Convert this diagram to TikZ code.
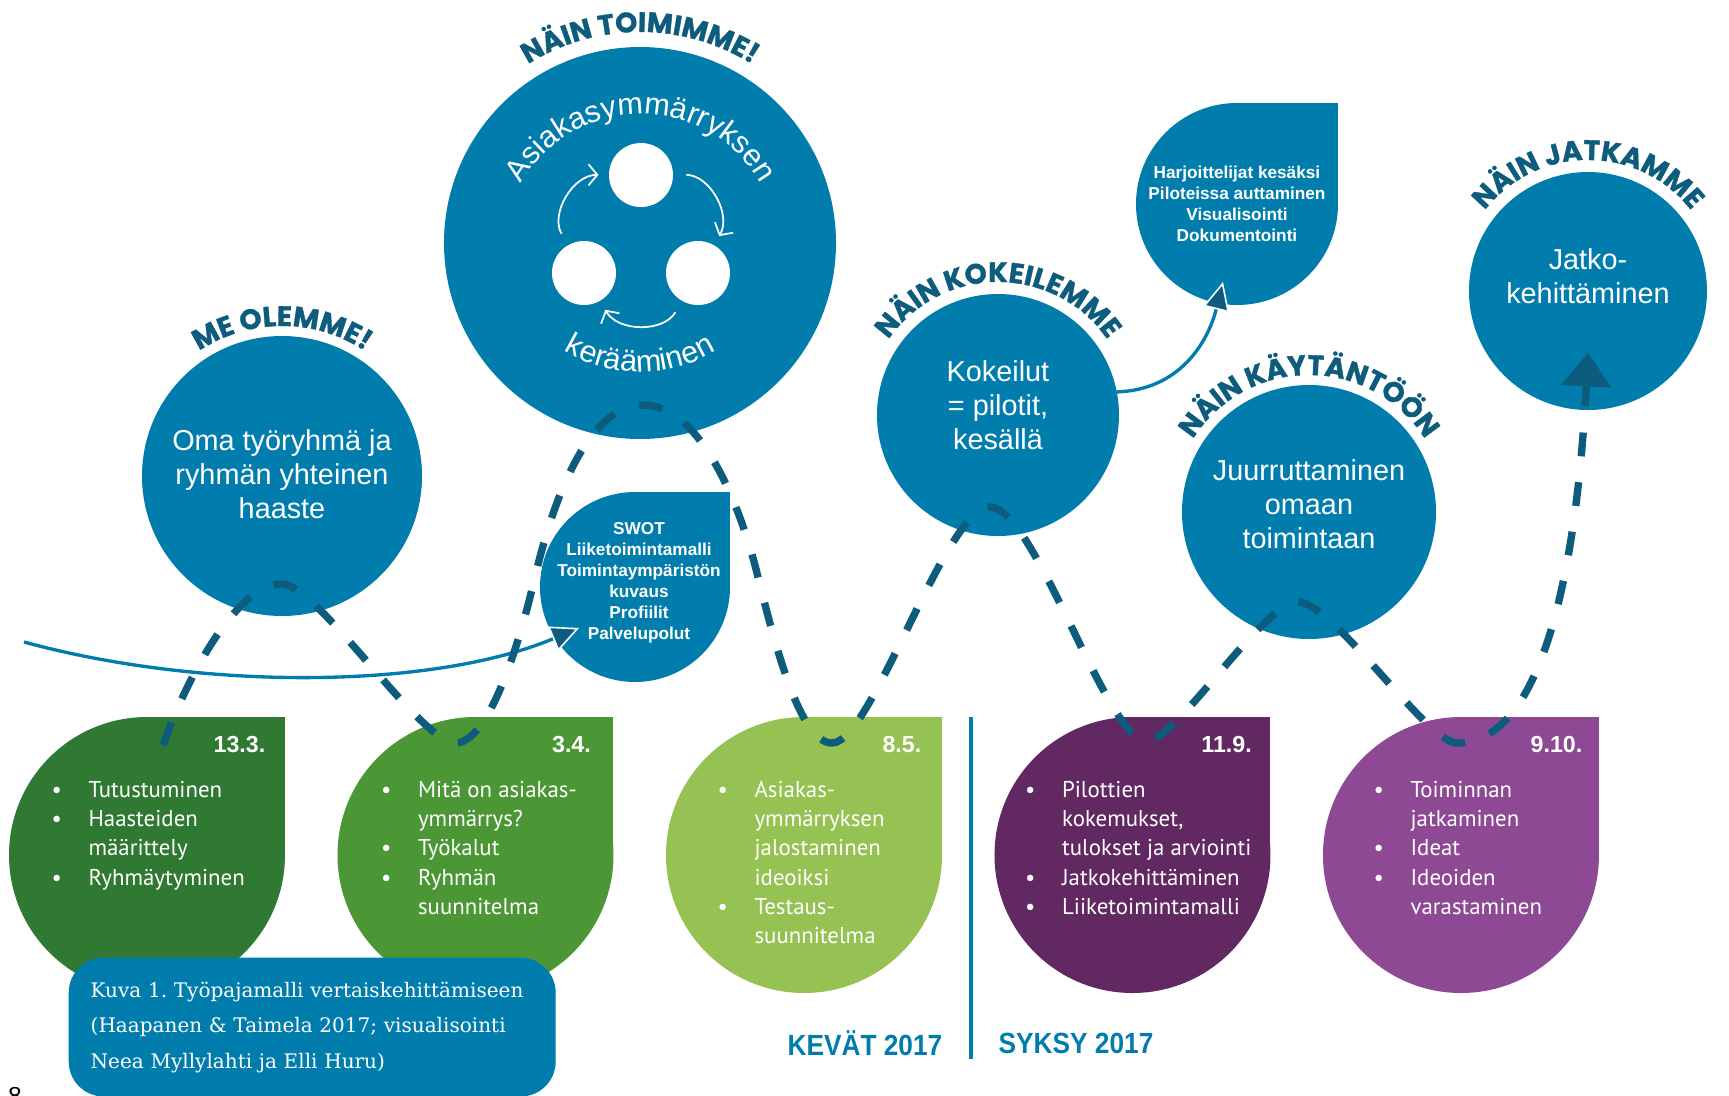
\documentclass[tikz,border=0pt]{standalone}
\usepackage{fontspec}
\setmainfont{Liberation Sans}
\newfontfamily\headfont{Poppins}[BoldFeatures={FakeBold=1.2}]
\newfontfamily\listfont{PT Sans}
\newfontfamily\capfont{DejaVu Serif}
\newfontfamily\narrowfont{Liberation Sans}[FakeStretch=0.9]
\usepackage{tikz}
\usetikzlibrary{arrows.meta, positioning, calc, decorations.text}

\definecolor{poolblue}{RGB}{0,125,172}
\definecolor{inkblue}{RGB}{13,92,125}
\definecolor{mossgreen}{RGB}{47,121,50}
\definecolor{leafgreen}{RGB}{75,150,53}
\definecolor{sprout}{RGB}{150,193,83}
\definecolor{plum}{RGB}{98,40,97}
\definecolor{lilac}{RGB}{141,73,147}

\tikzstyle{bubble} = [circle, fill=poolblue, inner sep=0pt, outer sep=0pt]
\tikzstyle{drop} = [circle, inner sep=0pt, outer sep=0pt, minimum size=27.6mm]
\tikzstyle{bubbletext} = [text=white, align=center, font=\fontsize{8.2}{9.7}\selectfont]
\tikzstyle{droptext} = [text=white, align=center, font=\bfseries\fontsize{4.9}{6}\selectfont]
\tikzstyle{datelabel} = [text=white, anchor=east, inner sep=0pt, font=\bfseries\fontsize{6.6}{7}\selectfont]
\tikzstyle{bullets} = [text=white, anchor=base west, inner sep=0pt, font=\listfont\fontsize{6.5}{8.35}\selectfont]
\tikzstyle{season} = [text=poolblue, inner sep=0pt, font=\narrowfont\bfseries\fontsize{8.3}{9}\selectfont]
\tikzstyle{capbox} = [anchor=north west, fill=poolblue, text=white, rounded corners=3.5mm, text width=44.3mm, align=left, inner xsep=2.2mm, inner ysep=2.4mm, font=\capfont\frenchspacing\fontsize{5.7}{10.1}\selectfont]
\tikzstyle{trail} = [color=inkblue, line width=2.1pt, dash pattern=on 6.8pt off 7.4pt, -{Triangle[length=9.5pt, width=14.5pt, line width=0pt]}]
\tikzstyle{feed} = [color=poolblue, line width=0.95pt, -{Triangle[length=8pt, width=7.5pt, color=white, fill=inkblue, line width=0.45pt]}]
\tikzstyle{loopline} = [draw=white, line width=0.5pt, -{Straight Barb[length=2.5pt, width=6pt]}, bend left=60, looseness=1.14, shorten <=3.8pt, shorten >=3pt]
\tikzset{
  archeading/.style 2 args={decorate, decoration={text along path, text align=center, text color=inkblue, text={|\headfont\bfseries\fontsize{#1}{#1}\selectfont|#2}}},
  arclabel/.style={decorate, decoration={text along path, text align=center, text color=white, text={|\fontsize{8.7}{8.7}\selectfont|#1}}}
}

\begin{document}
\begin{tikzpicture}[x=0.1mm, y=0.1mm]
\useasboundingbox (0,0) rectangle (1729,-1095);

% Upper row: phases and tool drops
\node[bubble, minimum size=28mm] (olemme) at (282,-476) {};
\node[bubble, minimum size=39.2mm] (toimimme) at (640,-243) {};
\node[bubble, minimum size=19mm] (swot) at (635,-587) {};
\fill[poolblue] (swot.center) rectangle (swot.north -| swot.east);
\node[bubble, minimum size=24.2mm] (kokeilut) at (998,-415) {};
\node[bubble, minimum size=20.2mm] (harj) at (1237,-204) {};
\fill[poolblue] (harj.center) rectangle (harj.north -| harj.east);
\node[bubble, minimum size=25.4mm] (juurr) at (1309,-512) {};
\node[bubble, minimum size=23.8mm] (jatko) at (1588,-291) {};

% Lower row: workshop drops
\node[drop, fill=mossgreen] (d1) at (147,-855) {};
\node[drop, fill=leafgreen, right=5.25mm of d1] (d2) {};
\node[drop, fill=sprout, right=5.25mm of d2] (d3) {};
\node[drop, fill=plum, right=5.25mm of d3] (d4) {};
\node[drop, fill=lilac, right=5.25mm of d4] (d5) {};
\fill[mossgreen] (d1.center) rectangle (d1.north -| d1.east);
\fill[leafgreen] (d2.center) rectangle (d2.north -| d2.east);
\fill[sprout] (d3.center) rectangle (d3.north -| d3.east);
\fill[plum] (d4.center) rectangle (d4.north -| d4.east);
\fill[lilac] (d5.center) rectangle (d5.north -| d5.east);

% Texts inside the circles
\node[bubbletext] (olemme-text) at ($(olemme)+(0,2)$) {Oma työryhmä ja\\ryhmän yhteinen\\haaste};
\node[bubbletext] (kokeilut-text) at ($(kokeilut)+(0,10)$) {Kokeilut\\= pilotit,\\kesällä};
\node[bubbletext] (juurr-text) at ($(juurr)+(0,8)$) {Juurruttaminen\\omaan\\toimintaan};
\node[bubbletext] (jatko-text) at ($(jatko)+(0,15)$) {Jatko-\\kehittäminen};
\node[droptext] (swot-text) at ($(swot)+(4,4)$) {SWOT\\Liiketoimintamalli\\Toimintaympäristön\\kuvaus\\Profiilit\\Palvelupolut};
\node[droptext] (harj-text) at (harj) {Harjoittelijat kesäksi\\Piloteissa auttaminen\\Visualisointi\\Dokumentointi};

% Customer insight cycle
\node[bubble, fill=white, minimum size=6.4mm] (tri1) at (641,-175) {};
\node[bubble, fill=white, minimum size=6.4mm] (tri2) at (698,-273) {};
\node[bubble, fill=white, minimum size=6.4mm] (tri3) at (584,-273) {};
\draw[loopline] (tri3) to (tri1);
\draw[loopline] (tri1) to (tri2);
\draw[loopline] (tri2) to (tri3);
\path[arclabel=Asiakasymmärryksen] ($(toimimme)+(1,-9)$) ++(152:138) arc[start angle=152, end angle=28, radius=138];
\path[arclabel=kerääminen] ($(toimimme)+(0,17)$) ++(215:146) arc[start angle=215, end angle=325, radius=146];

% Headings
\path[archeading={8}{ME OLEMME!}] (olemme.center) ++(170:150) arc[start angle=170, end angle=10, radius=150];
\path[archeading={8}{NÄIN TOIMIMME!}] (toimimme.center) ++(170:211) arc[start angle=170, end angle=10, radius=211];
\path[archeading={8}{NÄIN KOKEILEMME}] (kokeilut.center) ++(175:133) arc[start angle=175, end angle=5, radius=133];
\path[archeading={8}{NÄIN KÄYTÄNTÖÖN}] (juurr.center) ++(175:137) arc[start angle=175, end angle=5, radius=137];
\path[archeading={8}{NÄIN JATKAMME}] (jatko.center) ++(175:131) arc[start angle=175, end angle=5, radius=131];

% Dates and contents of the workshops
\node[datelabel] (d1-date) at ($(d1.north -| d1.east)+(-19,-28)$) {13.3.};
\node[datelabel] (d2-date) at ($(d2.north -| d2.east)+(-22,-28)$) {3.4.};
\node[datelabel] (d3-date) at ($(d3.north -| d3.east)+(-20,-28)$) {8.5.};
\node[datelabel] (d4-date) at ($(d4.north -| d4.east)+(-18,-28)$) {11.9.};
\node[datelabel] (d5-date) at ($(d5.north -| d5.east)+(-16,-28)$) {9.10.};

\node[bullets] (d1-list) at ($(d1)+(-96,58)$) {\begin{tabular}[t]{@{}p{10.5pt}@{}l@{}}
\textbullet & Tutustuminen\\ \textbullet & Haasteiden\\ & määrittely\\ \textbullet & Ryhmäytyminen
\end{tabular}};
\node[bullets] (d2-list) at ($(d2)+(-95,58)$) {\begin{tabular}[t]{@{}p{10.5pt}@{}l@{}}
\textbullet & Mitä on asiakas-\\ & ymmärrys?\\ \textbullet & Työkalut\\ \textbullet & Ryhmän\\ & suunnitelma
\end{tabular}};
\node[bullets] (d3-list) at ($(d3)+(-87,58)$) {\begin{tabular}[t]{@{}p{10.5pt}@{}l@{}}
\textbullet & Asiakas-\\ & ymmärryksen\\ & jalostaminen\\ & ideoiksi\\ \textbullet & Testaus-\\ & suunnitelma
\end{tabular}};
\node[bullets] (d4-list) at ($(d4)+(-108,58)$) {\begin{tabular}[t]{@{}p{10.5pt}@{}l@{}}
\textbullet & Pilottien\\ & kokemukset,\\ & tulokset ja arviointi\\ \textbullet & Jatkokehittäminen\\ \textbullet & Liiketoimintamalli
\end{tabular}};
\node[bullets] (d5-list) at ($(d5)+(-88,58)$) {\begin{tabular}[t]{@{}p{10.5pt}@{}l@{}}
\textbullet & Toiminnan\\ & jatkaminen\\ \textbullet & Ideat\\ \textbullet & Ideoiden\\ & varastaminen
\end{tabular}};

% Feedback arrows into the tool drops
\coordinate (feedstart) at (24,-642);
\draw[feed] (feedstart) .. controls +(176,-48) and +(-149,-62) .. ($(swot)+(-56,-41)$);
\draw[feed] (kokeilut.11) .. controls +(63,2) and +(-15,-60) .. ($(harj)+(-14,-78)$);

% Dashed trail through the process
\coordinate (t0) at ($(d1.north)+(16,-28)$);
\coordinate (t1) at ($(olemme.south)+(0,32)$);
\coordinate (t2) at ($(d2.north)+(-20,-26)$);
\coordinate (m1) at ($(toimimme.south)+(-105,-138)$);
\coordinate (t3) at ($(toimimme.south)+(3,34)$);
\coordinate (m2) at ($(toimimme.south)+(117,-134)$);
\coordinate (t4) at ($(d3.north)+(28,-26)$);
\coordinate (t5) at ($(kokeilut.south)+(-8,29)$);
\coordinate (t6) at ($(d4.north)+(14,-24)$);
\coordinate (t7) at ($(juurr.south)+(-11,37)$);
\coordinate (t8) at ($(d5.north)+(-4,-26)$);
\coordinate (t9) at ($(jatko.south)+(0,57)$);
\draw[trail] (t0) .. controls +(25,70) and +(-45,0) .. (t1)
  .. controls +(35,0) and +(-35,0) .. (t2)
  .. controls +(30,0) and +(-20,-85) .. (m1)
  .. controls +(14,60) and +(-60,0) .. (t3)
  .. controls +(60,0) and +(-15,60) .. (m2)
  .. controls +(21,-85) and +(-30,0) .. (t4)
  .. controls +(40,0) and +(-45,0) .. (t5)
  .. controls +(45,0) and +(-40,0) .. (t6)
  .. controls +(30,0) and +(-35,0) .. (t7)
  .. controls +(35,0) and +(-30,0) .. (t8)
  .. controls +(88,0) and +(-11,-207) .. (t9);

% Seasons
\draw[poolblue, line width=1pt] (971,-717) -- (971,-1059);
\node[season, anchor=east] (kevat) at (943,-1043) {KEVÄT 2017};
\node[season, anchor=west] (syksy) at (998,-1043) {SYKSY 2017};

% Caption
\node[capbox] (caption) at (68,-957) {Kuva 1. Työpajamalli vertaiskehittämiseen\\(Haapanen \& Taimela 2017; visualisointi\\Neea Myllylahti ja Elli Huru)};
\node[anchor=north, inner sep=0pt, font=\fontsize{7}{7}\selectfont] (pageno) at (15,-1087) {8};

\end{tikzpicture}
\end{document}
